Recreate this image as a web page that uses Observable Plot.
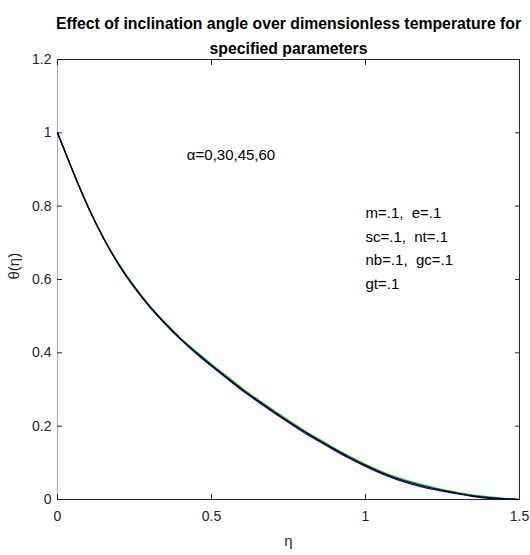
<!DOCTYPE html>
<html>
<head>
<meta charset="utf-8">
<script src="https://cdn.jsdelivr.net/npm/d3@7"></script>
<script src="https://cdn.jsdelivr.net/npm/@observablehq/plot@0.6"></script>
<style>
  body { margin: 0; background: #fff; }
  svg { font-family: "Liberation Sans Narrow", "Liberation Sans", Arial, sans-serif; }
</style>
</head>
<body>
<div id="chart"></div>
<script>
const titleLines = ["Effect of inclination angle over dimensionless temperature for", "specified parameters"];
const xLabel = "η";
const yLabel = "θ(η)";
const alphaNote = "α=0,30,45,60";
const paramNotes = ["m=.1,  e=.1", "sc=.1,  nt=.1", "nb=.1,  gc=.1", "gt=.1"];
const xTicks = [0, 0.5, 1, 1.5];
const yTicks = [0, 0.2, 0.4, 0.6, 0.8, 1, 1.2];

const eta = [0, 0.05, 0.10, 0.15, 0.20, 0.25, 0.30, 0.35, 0.40, 0.45, 0.50, 0.55, 0.60, 0.65, 0.70, 0.75, 0.80, 0.85, 0.90, 0.95, 1.00, 1.05, 1.10, 1.15, 1.20, 1.25, 1.30, 1.35, 1.40, 1.45, 1.50];
const theta0  = [1.000, 0.895, 0.797, 0.712, 0.640, 0.579, 0.526, 0.480, 0.438, 0.401, 0.366, 0.333, 0.300, 0.270, 0.241, 0.213, 0.186, 0.161, 0.137, 0.114, 0.093, 0.074, 0.058, 0.045, 0.034, 0.025, 0.017, 0.010, 0.005, 0.002, 0.000];
const theta30 = [1.000, 0.896, 0.798, 0.713, 0.642, 0.581, 0.528, 0.482, 0.440, 0.404, 0.369, 0.336, 0.303, 0.273, 0.244, 0.216, 0.189, 0.164, 0.140, 0.117, 0.096, 0.077, 0.061, 0.048, 0.037, 0.027, 0.019, 0.012, 0.007, 0.003, 0.000];
const theta45 = [1.000, 0.894, 0.796, 0.711, 0.638, 0.577, 0.524, 0.478, 0.436, 0.398, 0.363, 0.330, 0.297, 0.267, 0.238, 0.210, 0.183, 0.158, 0.134, 0.111, 0.090, 0.071, 0.055, 0.042, 0.031, 0.023, 0.015, 0.008, 0.003, 0.001, 0.000];
const theta60 = [1.000, 0.895, 0.797, 0.712, 0.640, 0.579, 0.526, 0.480, 0.438, 0.401, 0.366, 0.333, 0.300, 0.270, 0.241, 0.213, 0.186, 0.161, 0.137, 0.114, 0.093, 0.074, 0.058, 0.045, 0.034, 0.025, 0.017, 0.010, 0.005, 0.002, 0.000];
const seriesNames = ["α=0", "α=30", "α=45", "α=60"];
const seriesColors = ["#ff0000", "#00c800", "#0000ff", "#000000"];
const seriesValues = [theta0, theta30, theta45, theta60];

const rows = [];
seriesValues.forEach((vals, s) => vals.forEach((v, i) => rows.push({series: seriesNames[s], eta: eta[i], theta: v})));

const plot = Plot.plot({
  width: 530,
  height: 555,
  marginLeft: 57,
  marginRight: 11,
  marginTop: 59,
  marginBottom: 56,
  style: {fontSize: "14px", color: "#262626", background: "#fff"},
  x: {domain: [0, 1.5]},
  y: {domain: [0, 1.2]},
  color: {domain: seriesNames, range: seriesColors},
  marks: [
    Plot.frame({stroke: "#262626", strokeWidth: 1}),
    Plot.ruleX([0], {stroke: "#b0b0b0", strokeWidth: 1.2}),
    Plot.axisX(xTicks, {anchor: "bottom", tickSize: 5, dy: -5, text: null, label: null, stroke: "#262626"}),
    Plot.axisX(xTicks, {anchor: "top", tickSize: 5, dy: 5, text: null, label: null, stroke: "#262626"}),
    Plot.axisY(yTicks, {anchor: "left", tickSize: 5, dx: 5, text: null, label: null, stroke: "#262626"}),
    Plot.axisY(yTicks, {anchor: "right", tickSize: 5, dx: -5, text: null, label: null, stroke: "#262626"}),
    Plot.axisX(xTicks, {anchor: "bottom", tickSize: 0, tickPadding: 12, label: null, tickFormat: d => String(d), fill: "#262626", fontSize: 14}),
    Plot.axisY(yTicks, {anchor: "left", tickSize: 0, tickPadding: 6, label: null, tickFormat: d => String(d), fill: "#262626", fontSize: 14}),
    Plot.line(rows, {x: "eta", y: "theta", z: "series", stroke: "series", strokeWidth: 1.2, curve: "natural"}),
    Plot.text([alphaNote], {x: 0.42, y: 0.94, text: d => d, textAnchor: "start", fontSize: 15, fill: "#000"}),
    Plot.text(paramNotes, {x: 1.0, y: (d, i) => 0.78 - i * 0.064, text: d => d, textAnchor: "start", fontSize: 15, fill: "#000"}),
    Plot.text([titleLines[0]], {frameAnchor: "top", dy: -42, text: d => d, fontWeight: "bold", fontSize: 15.8, fill: "#000"}),
    Plot.text([titleLines[1]], {frameAnchor: "top", dy: -17, text: d => d, fontWeight: "bold", fontSize: 15.8, fill: "#000"}),
    Plot.text([xLabel], {frameAnchor: "bottom", dy: 46, text: d => d, fontSize: 15, fill: "#262626"}),
    Plot.text([yLabel], {frameAnchor: "left", dx: -43, rotate: -90, text: d => d, fontSize: 15, fill: "#262626"})
  ]
});
document.getElementById("chart").appendChild(plot);
</script>
</body>
</html>
